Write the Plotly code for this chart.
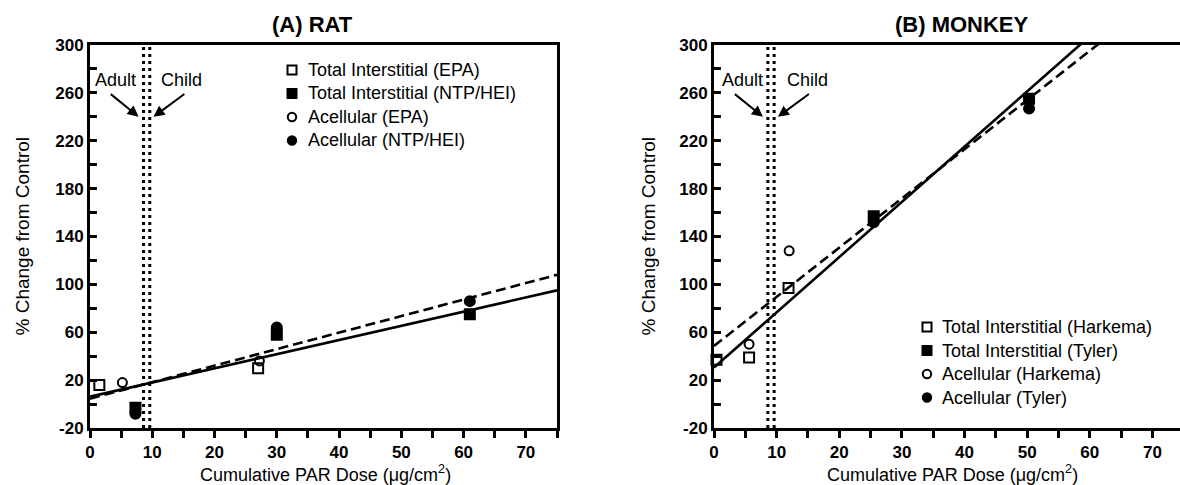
import plotly.graph_objects as go

# ---------------- (A) RAT ----------------
rat_names = ["Total Interstitial (EPA)", "Total Interstitial (NTP/HEI)",
             "Acellular (EPA)", "Acellular (NTP/HEI)"]
rat_ti_epa_x = [1.5, 27.0]
rat_ti_epa_y = [16, 30]
rat_ti_ntp_x = [7.3, 30.0, 61.0]
rat_ti_ntp_y = [-3, 58, 75]
rat_ac_epa_x = [5.2, 27.2]
rat_ac_epa_y = [18, 36]
rat_ac_ntp_x = [7.3, 30.0, 61.0]
rat_ac_ntp_y = [-8, 64, 86]

rat_fit_x = [0, 75]
rat_fit_ti = [6.2, 95]     # solid regression line
rat_fit_ac = [4.5, 108]    # dashed regression line

# ---------------- (B) MONKEY ----------------
mky_names = ["Total Interstitial (Harkema)", "Total Interstitial (Tyler)",
             "Acellular (Harkema)", "Acellular (Tyler)"]
mky_ti_hark_x = [0.4, 5.6, 11.9]
mky_ti_hark_y = [37, 39, 97]
mky_ti_tyler_x = [25.5, 50.3]
mky_ti_tyler_y = [157, 255]
mky_ac_hark_x = [5.6, 12.0]
mky_ac_hark_y = [50, 128]
mky_ac_tyler_x = [25.5, 50.3]
mky_ac_tyler_y = [152, 247]

mky_fit_x = [0, 75]
mky_fit_ti = [30.5, 376.6]
mky_fit_ac = [48.5, 356.8]

# Adult / child dose markers and their pointer arrows (tail -> head)
adult_dose = 8.6
child_dose = 9.6
y_span = [-20, 300]
adult_arrow_x = [3.1, 7.8]
child_arrow_x = [15.4, 10.2]
arrow_y = [260, 240]

x_ticks = [0, 10, 20, 30, 40, 50, 60, 70]
y_ticks = [-20, 20, 60, 100, 140, 180, 220, 260, 300]

FONT = "Liberation Sans, Arial, Helvetica, sans-serif"
BLACK = "black"
TXT = 18

# symbol style for each of the four series: (plotly symbol, key shape, filled)
SERIES_STYLE = [("square-open", "rect", False), ("square", "rect", True),
                ("circle-open", "circle", False), ("circle", "circle", True)]

fig = go.Figure()


def points(x, y, name, style, xa, ya):
    symbol = SERIES_STYLE[style][0]
    size = 9 if symbol == "circle-open" else 10
    fig.add_trace(go.Scatter(
        x=x, y=y, mode="markers", name=name, showlegend=False,
        marker=dict(symbol=symbol, size=size, color=BLACK,
                    line=dict(color=BLACK, width=2)),
        xaxis=xa, yaxis=ya, cliponaxis=False,
    ))


def fit_line(x, y, dash, xa, ya):
    fig.add_trace(go.Scatter(
        x=x, y=y, mode="lines", showlegend=False,
        line=dict(color=BLACK, width=2.6, dash=dash),
        xaxis=xa, yaxis=ya, hoverinfo="skip",
    ))


def dose_lines(xa, ya):
    for d in (adult_dose, child_dose):
        fig.add_trace(go.Scatter(
            x=[d, d], y=y_span, mode="lines", showlegend=False,
            line=dict(color=BLACK, width=3, dash="3px,4px"),
            xaxis=xa, yaxis=ya, hoverinfo="skip",
        ))


# Panel A
dose_lines("x", "y")
fit_line(rat_fit_x, rat_fit_ti, "solid", "x", "y")
fit_line(rat_fit_x, rat_fit_ac, "10px,5px", "x", "y")
points(rat_ti_epa_x, rat_ti_epa_y, rat_names[0], 0, "x", "y")
points(rat_ti_ntp_x, rat_ti_ntp_y, rat_names[1], 1, "x", "y")
points(rat_ac_epa_x, rat_ac_epa_y, rat_names[2], 2, "x", "y")
points(rat_ac_ntp_x, rat_ac_ntp_y, rat_names[3], 3, "x", "y")

# Panel B
dose_lines("x2", "y2")
fit_line(mky_fit_x, mky_fit_ti, "solid", "x2", "y2")
fit_line(mky_fit_x, mky_fit_ac, "10px,5px", "x2", "y2")
points(mky_ti_hark_x, mky_ti_hark_y, mky_names[0], 0, "x2", "y2")
points(mky_ti_tyler_x, mky_ti_tyler_y, mky_names[1], 1, "x2", "y2")
points(mky_ac_hark_x, mky_ac_hark_y, mky_names[2], 2, "x2", "y2")
points(mky_ac_tyler_x, mky_ac_tyler_y, mky_names[3], 3, "x2", "y2")

tick_font = dict(family=FONT, size=17, color=BLACK)


def xaxis(domain, rng, anchor):
    return dict(
        domain=domain, range=rng, anchor=anchor, showgrid=False, zeroline=False,
        showline=True, linecolor=BLACK, linewidth=3, mirror=True,
        ticks="outside", ticklen=7, tickwidth=2.5, tickcolor=BLACK,
        tickvals=x_ticks, ticktext=[f"<b>{v}</b>" for v in x_ticks],
        tickfont=tick_font, automargin=False,
        minor=dict(dtick=5, tick0=0, ticks="outside", ticklen=7,
                   tickwidth=2.5, tickcolor=BLACK, showgrid=False),
    )


def yaxis(domain, anchor, mirror):
    return dict(
        domain=domain, range=y_span, anchor=anchor, showgrid=False,
        zeroline=False, showline=True, linecolor=BLACK, linewidth=3,
        mirror=mirror, ticks="inside", ticklen=7, tickwidth=2.5,
        tickcolor=BLACK, tickvals=y_ticks,
        ticktext=[f"<b>{v}</b>" for v in y_ticks], tickfont=tick_font,
        automargin=False,
        minor=dict(dtick=20, tick0=0, ticks="inside", ticklen=7,
                   tickwidth=2.5, tickcolor=BLACK, showgrid=False),
    )


W, H = 1180, 485
PLOT_TOP, PLOT_BOTTOM = 45, 428
ydom = [(H - PLOT_BOTTOM) / H, (H - PLOT_TOP) / H]
xdom_a = [90 / W, 557 / W]
xdom_b = [714 / W, 1.0]

fig.update_layout(
    template="none",
    width=W, height=H,
    margin=dict(l=0, r=0, t=0, b=0),
    paper_bgcolor="white", plot_bgcolor="white",
    font=dict(family=FONT, color=BLACK),
    xaxis=xaxis(xdom_a, [0, 75], "y"),
    yaxis=yaxis(ydom, "x", True),
    xaxis2=xaxis(xdom_b, [0, 74.4], "y2"),
    yaxis2=yaxis(ydom, "x2", False),
    showlegend=False,
)


def paper_text(text, x, y, size, angle=0, xanchor="center"):
    fig.add_annotation(text=text, x=x / W, y=(H - y) / H, xref="paper",
                       yref="paper", xanchor=xanchor, yanchor="middle",
                       showarrow=False, textangle=angle,
                       font=dict(family=FONT, size=size, color=BLACK))


def legend_block(names, sym_x, text_x, row_y):
    """Key of series symbols with their names, one row per series."""
    for (symbol, shape, filled), name, y in zip(SERIES_STYLE, names, row_y):
        half = 4.5 if shape == "rect" else 4.2
        fig.add_shape(type=shape, xref="paper", yref="paper",
                      xsizemode="pixel", ysizemode="pixel",
                      xanchor=sym_x / W, yanchor=(H - y) / H,
                      x0=-half, x1=half, y0=-half, y1=half,
                      line=dict(color=BLACK, width=2),
                      fillcolor=BLACK if filled else "white")
        paper_text(name, text_x, y, TXT, xanchor="left")


legend_block(rat_names, 292, 306, [70, 93.5, 117, 140.5])
legend_block(mky_names, 927, 940, [327, 350.5, 374, 397.5])

# Panel titles
paper_text("<b>(A) RAT</b>", 312, 24, 22)
paper_text("<b>(B) MONKEY</b>", 962, 24, 22)

# Axis titles
xlabel = "Cumulative PAR Dose (\u03bcg/cm<sup>2</sup>)"
ylabel = "% Change from Control"
paper_text(xlabel, 326, 473, 18)
paper_text(xlabel, 952, 473, 18)
paper_text(ylabel, 22, (PLOT_TOP + PLOT_BOTTOM) / 2, 19, -90)
paper_text(ylabel, 648, (PLOT_TOP + PLOT_BOTTOM) / 2, 19, -90)

# Adult / Child labels with arrows pointing at the dose lines
for xa, ya, adult_txt_x, child_txt_x in (("x", "y", 4.1, 14.7), ("x2", "y2", 4.6, 15.0)):
    fig.add_annotation(text="Adult", x=adult_txt_x, y=271, xref=xa, yref=ya,
                       xanchor="center", yanchor="middle", showarrow=False,
                       font=dict(family=FONT, size=TXT, color=BLACK))
    fig.add_annotation(text="Child", x=child_txt_x, y=271, xref=xa, yref=ya,
                       xanchor="center", yanchor="middle", showarrow=False,
                       font=dict(family=FONT, size=TXT, color=BLACK))
    for ax_pair in (adult_arrow_x, child_arrow_x):
        fig.add_annotation(x=ax_pair[1], y=arrow_y[1], ax=ax_pair[0], ay=arrow_y[0],
                           xref=xa, yref=ya, axref=xa, ayref=ya, showarrow=True,
                           arrowhead=2, arrowsize=1.1, arrowwidth=2,
                           arrowcolor=BLACK, text="")

fig.write_html("out.html")
